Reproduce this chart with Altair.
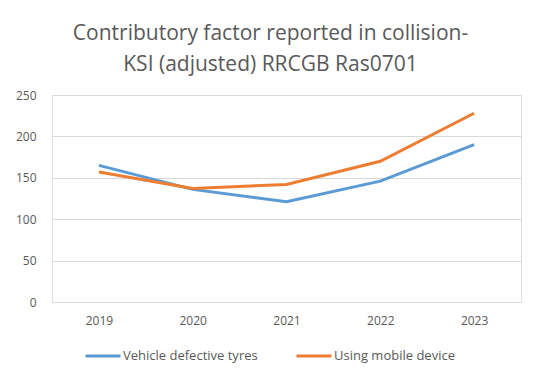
import altair as alt
import pandas as pd

years = ["2019", "2020", "2021", "2022", "2023"]
series_names = ["Vehicle defective tyres", "Using mobile device"]
tyres = [165, 136, 121, 146, 190]
mobile = [157, 137, 142, 170, 228]
y_ticks = [0, 50, 100, 150, 200, 250]
colors = ["#5B9BD5", "#ED7D31"]

rows = []
for name, vals in zip(series_names, [tyres, mobile]):
    for y, v in zip(years, vals):
        rows.append({"Year": y, "Series": name, "Value": v})
df = pd.DataFrame(rows)

FONT = "Open Sans"
GRAY = "#595959"

chart = alt.Chart(df).mark_line(strokeWidth=3).encode(
    x=alt.X("Year:N", sort=years, title=None,
            scale=alt.Scale(type="point", padding=0.5),
            axis=alt.Axis(labelAngle=0, domain=False, ticks=False, labelPadding=13,
                          labelFont=FONT, labelFontSize=12, labelColor=GRAY, grid=False)),
    y=alt.Y("Value:Q", title=None,
            scale=alt.Scale(domain=[0, 250], nice=False),
            axis=alt.Axis(values=y_ticks, domain=False, ticks=False, labelPadding=16,
                          labelFont=FONT, labelFontSize=12, labelColor=GRAY,
                          gridColor="#D9D9D9", gridWidth=1)),
    color=alt.Color("Series:N", sort=series_names, title=None,
                    scale=alt.Scale(domain=series_names, range=colors),
                    legend=alt.Legend(orient="none", direction="horizontal",
                                      legendX=32, legendY=242,
                                      symbolType="stroke", symbolSize=1225,
                                      symbolStrokeWidth=3, labelFont=FONT,
                                      labelFontSize=13, labelColor=GRAY,
                                      labelOffset=1, columnPadding=32)),
).properties(
    width=469,
    height=207,
    title=alt.TitleParams(
        text=["Contributory factor reported in collision-", "KSI (adjusted) RRCGB Ras0701"],
        font=FONT, fontSize=21, fontWeight="normal", color=GRAY,
        anchor="middle", lineHeight=31, offset=14, dx=-16,
    ),
    autosize=alt.AutoSizeParams(type="none"),
    padding={"left": 44, "top": 87, "right": 10, "bottom": 70},
).configure_view(stroke=None).configure(background="white")

chart.save("out.html", embed_options={"renderer": "svg", "actions": False})
